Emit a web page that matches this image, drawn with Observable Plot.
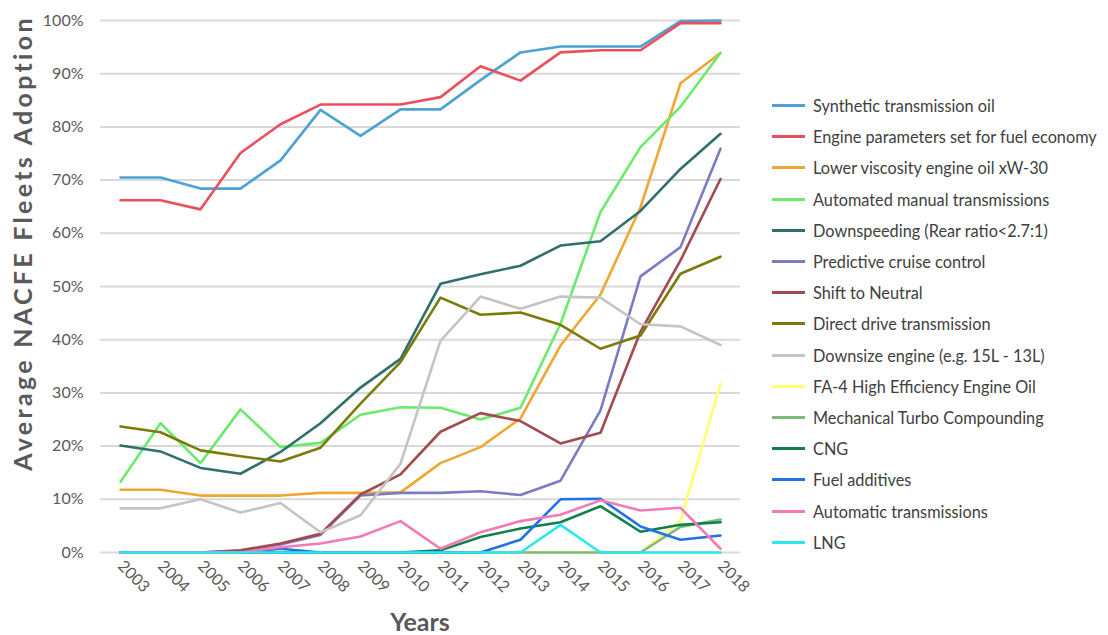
<!DOCTYPE html>
<html><head><meta charset="utf-8">
<script src="https://cdn.jsdelivr.net/npm/d3@7"></script>
<script src="https://cdn.jsdelivr.net/npm/@observablehq/plot@0.6"></script>
<style>
body{margin:0;background:#fff;font-family:Lato,"Open Sans",sans-serif;}
#wrap{position:relative;width:1108px;height:635px;overflow:hidden;}
#chart{position:absolute;left:0;top:0;}
#legend{position:absolute;left:772px;top:90px;}
.item{display:flex;align-items:center;height:31.2px;font-size:16.3px;color:#404040;white-space:nowrap;}
.sw{width:33px;height:3px;margin-right:8px;}
.axlabel{position:absolute;font-weight:bold;color:#595959;white-space:nowrap;line-height:1;}
#ylab{left:22px;top:243px;font-size:25px;letter-spacing:3.3px;transform:translate(-50%,-50%) rotate(-90deg);}
#xlab{left:420px;top:621px;font-size:25px;transform:translate(-50%,-50%);}
</style></head><body><div id="wrap"><div id="chart"></div><div id="legend"></div>
<div class="axlabel" id="ylab"></div><div class="axlabel" id="xlab"></div></div>
<script>
const years = [2003,2004,2005,2006,2007,2008,2009,2010,2011,2012,2013,2014,2015,2016,2017,2018];
const yTicks = [0,10,20,30,40,50,60,70,80,90,100];
const xTitle = "Years";
const yTitle = "Average NACFE Fleets Adoption";
const seriesNames = [
  "Synthetic transmission oil",
  "Engine parameters set for fuel economy",
  "Lower viscosity engine oil xW-30",
  "Automated manual transmissions",
  "Downspeeding (Rear ratio<2.7:1)",
  "Predictive cruise control",
  "Shift to Neutral",
  "Direct drive transmission",
  "Downsize engine (e.g. 15L - 13L)",
  "FA-4 High Efficiency Engine Oil",
  "Mechanical Turbo Compounding",
  "CNG",
  "Fuel additives",
  "Automatic transmissions",
  "LNG"
];
const seriesColors = ["#4ea1d3","#e9505d","#f0a732","#6cea6c","#2f6f6c","#7b7bc4","#a24a4e","#7b7b0a","#c4c4c4","#ffff70","#7dbb7d","#10804a","#1f73e6","#f27ab5","#2ee6f0"];

const syntheticOil      = [70.5,70.5,68.4,68.4,73.7,83.2,78.3,83.3,83.3,88.8,94.0,95.1,95.1,95.1,99.9,100];
const engineParams      = [66.2,66.2,64.5,75.1,80.5,84.2,84.2,84.2,85.6,91.4,88.7,94.0,94.4,94.4,99.5,99.5];
const lowerViscosity    = [11.8,11.8,10.7,10.7,10.7,11.2,11.2,11.3,16.8,19.8,25.2,38.9,48.5,64.9,88.2,93.9];
const automatedManual   = [13.3,24.3,16.8,26.9,19.8,20.6,25.9,27.3,27.2,25.0,27.2,43.0,64.0,76.2,83.8,93.9];
const downspeeding      = [20.1,19.0,15.9,14.8,18.9,24.3,31.0,36.4,50.5,52.3,53.9,57.7,58.5,64.2,72.1,78.7];
const predictiveCruise  = [0,0,0,0.3,1.5,3.3,10.7,11.2,11.2,11.5,10.8,13.5,26.7,51.9,57.4,75.9];
const shiftToNeutral    = [0,0,0,0.4,1.7,3.5,10.9,14.7,22.7,26.2,24.7,20.5,22.5,41.5,54.9,70.2];
const directDrive       = [23.7,22.6,19.2,18.1,17.1,19.7,28.0,35.8,47.9,44.7,45.1,42.8,38.3,40.8,52.4,55.6];
const downsizeEngine    = [8.3,8.3,10.0,7.5,9.3,3.8,7.0,16.7,39.8,48.1,45.8,48.1,47.9,42.9,42.5,39.0];
const fa4Oil            = [0,0,0,0,0,0,0,0,0,0,0,0,0,0,6.0,31.7];
const mechTurbo         = [0,0,0,0,0,0,0,0,0,0,0,0,0,0,4.8,6.2];
const cng               = [0,0,0,0,0,0,0,0,0.4,2.9,4.5,5.7,8.7,3.9,5.2,5.7];
const fuelAdditives     = [0,0,0,0,0.7,0,0,0,0,0,2.4,10.0,10.1,4.9,2.4,3.2];
const automaticTrans    = [0,0,0,0,1.0,1.7,3.0,5.9,0.7,3.8,5.9,7.1,9.8,7.9,8.4,0.7];
const lng               = [0,0,0,0,0,0,0,0,0,0,0,5.2,0,0,0,0];

const seriesValues = [syntheticOil,engineParams,lowerViscosity,automatedManual,downspeeding,predictiveCruise,shiftToNeutral,directDrive,downsizeEngine,fa4Oil,mechTurbo,cng,fuelAdditives,automaticTrans,lng];

const data = [];
seriesNames.forEach((name,i)=>{
  years.forEach((yr,j)=>data.push({series:name,year:yr,value:seriesValues[i][j]}));
});

const chart = Plot.plot({
  width: 760, height: 635,
  marginLeft: 100, marginRight: 20, marginTop: 20, marginBottom: 83,
  style: {fontFamily: "Lato, 'Open Sans', sans-serif", fontSize: "16px", color: "#595959", background: "transparent"},
  x: {domain: [2002.5, 2018.5], ticks: years, tickFormat: d => String(d), tickRotate: 45, tickSize: 0, tickPadding: 11, label: null},
  y: {domain: [0, 100], ticks: yTicks, tickFormat: d => d + "%", tickSize: 0, tickPadding: 17, label: null},
  color: {domain: seriesNames, range: seriesColors},
  marks: [
    Plot.gridY(yTicks, {stroke: "#d9d9d9", strokeOpacity: 1, strokeWidth: 2}),
    Plot.line(data, {x: "year", y: "value", z: "series", stroke: "series", strokeWidth: 2.6, strokeLinejoin: "round"})
  ]
});
document.getElementById("chart").appendChild(chart);
document.getElementById("xlab").textContent = xTitle;
document.getElementById("ylab").textContent = yTitle;

const legend = document.getElementById("legend");
seriesNames.forEach((name,i)=>{
  const row = document.createElement("div"); row.className = "item";
  const sw = document.createElement("span"); sw.className = "sw"; sw.style.background = seriesColors[i];
  const t = document.createElement("span"); t.textContent = name;
  row.appendChild(sw); row.appendChild(t); legend.appendChild(row);
});
</script></body></html>
